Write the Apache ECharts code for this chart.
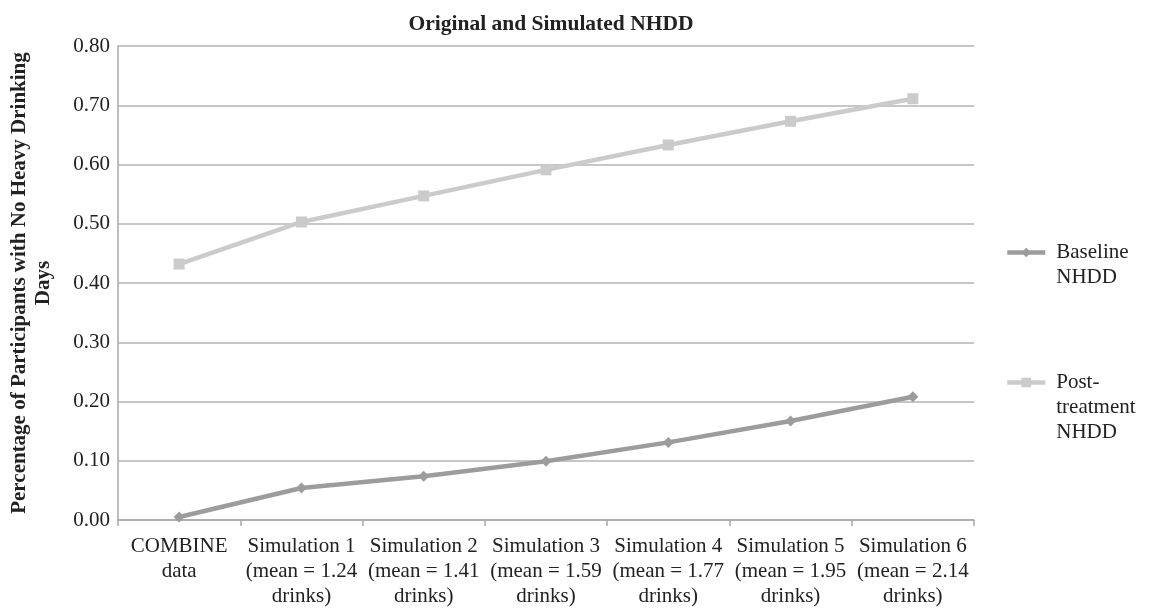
<!DOCTYPE html>
<html>
<head>
<meta charset="utf-8">
<script src="https://cdn.jsdelivr.net/npm/echarts@6/dist/echarts.min.js"></script>
<style>html,body{margin:0;padding:0;background:#fff;}#c{width:1149px;height:610px;}</style>
</head>
<body>
<div id="c"></div>
<script>
const categories = [
  "COMBINE\ndata",
  "Simulation 1\n(mean = 1.24\ndrinks)",
  "Simulation 2\n(mean = 1.41\ndrinks)",
  "Simulation 3\n(mean = 1.59\ndrinks)",
  "Simulation 4\n(mean = 1.77\ndrinks)",
  "Simulation 5\n(mean = 1.95\ndrinks)",
  "Simulation 6\n(mean = 2.14\ndrinks)"
];
const baselineNHDD = [0.005, 0.054, 0.074, 0.099, 0.131, 0.167, 0.208];
const postNHDD = [0.432, 0.503, 0.547, 0.591, 0.633, 0.673, 0.711];
const seriesNames = ["Baseline\nNHDD", "Post-\ntreatment\nNHDD"];
const yTicks = { min: 0, max: 0.8, interval: 0.1 };

const FONT = "'Liberation Serif', 'Times New Roman', serif";
// pad with blank lines on top so the first text line sits level with the legend icon
const legendFormatter = name => '\n'.repeat(name.split('\n').length - 1) + name;
const legendText = { fontFamily: FONT, fontSize: 21, lineHeight: 25, color: '#222', padding: [0, 0, 0, 6] };

const chart = echarts.init(document.getElementById('c'), null, { renderer: 'canvas' });
chart.setOption({
  backgroundColor: '#fff',
  animation: false,
  title: {
    text: 'Original and Simulated NHDD',
    left: 546, top: 8, textAlign: 'center',
    textStyle: { fontFamily: FONT, fontSize: 21.5, fontWeight: 'bold', color: '#222' }
  },
  legend: [
    {
      orient: 'vertical', left: 1000, top: 210,
      itemWidth: 38, itemHeight: 12,
      lineStyle: { width: 4.5 },
      data: [{ name: seriesNames[0] }],
      formatter: legendFormatter,
      textStyle: legendText
    },
    {
      orient: 'vertical', left: 1000, top: 315,
      itemWidth: 38, itemHeight: 12,
      lineStyle: { width: 4.5 },
      data: [{ name: seriesNames[1] }],
      formatter: legendFormatter,
      textStyle: legendText
    }
  ],
  grid: { left: 118, right: 175, top: 46, bottom: 90, containLabel: false },
  xAxis: {
    type: 'category',
    data: categories,
    boundaryGap: true,
    axisLine: { lineStyle: { color: '#a8a8a8', width: 1.5 } },
    axisTick: { show: true, length: 6, lineStyle: { color: '#a8a8a8', width: 1.5 } },
    axisLabel: { interval: 0, margin: 14, fontFamily: FONT, fontSize: 21, lineHeight: 25, color: '#222' }
  },
  yAxis: {
    type: 'value',
    min: yTicks.min, max: yTicks.max, interval: yTicks.interval,
    name: 'Percentage of Participants with No Heavy Drinking\nDays',
    nameLocation: 'middle',
    nameGap: 62,
    nameTextStyle: { fontFamily: FONT, fontSize: 21, fontWeight: 'bold', lineHeight: 24, color: '#222', align: 'center' },
    axisLine: { show: true, lineStyle: { color: '#a8a8a8', width: 1.5 } },
    axisTick: { show: false },
    splitLine: { lineStyle: { color: '#b4b4b4', width: 1.5 } },
    axisLabel: { margin: 8, fontFamily: FONT, fontSize: 21, color: '#222', formatter: v => v.toFixed(2) }
  },
  series: [
    {
      name: seriesNames[0], type: 'line', data: baselineNHDD,
      symbol: 'diamond', symbolSize: 11,
      lineStyle: { color: '#9c9c9c', width: 4.5 },
      itemStyle: { color: '#9c9c9c' }
    },
    {
      name: seriesNames[1], type: 'line', data: postNHDD,
      symbol: 'rect', symbolSize: 11,
      lineStyle: { color: '#cbcbcb', width: 4.5 },
      itemStyle: { color: '#cbcbcb' }
    }
  ]
});
</script>
</body>
</html>
